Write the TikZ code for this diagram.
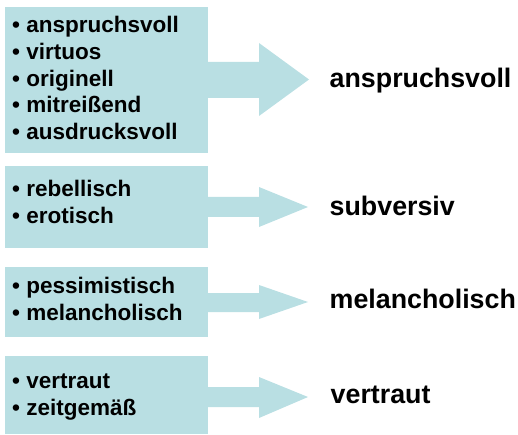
\documentclass[tikz,border=0pt]{standalone}
\usepackage{fontspec}
\setmainfont{Liberation Sans}
\definecolor{teal1}{RGB}{185,223,227}
\begin{document}
\begin{tikzpicture}[x=1pt,y=-1pt,
  boxbg/.style={fill=teal1,draw=none},
  item/.style={anchor=base west,inner sep=0pt,font=\fontsize{22.5}{27}\selectfont\bfseries},
  result/.style={anchor=base west,inner sep=0pt,font=\fontsize{26.8}{32}\selectfont\bfseries}]
\useasboundingbox (0,0) rectangle (518,435);
% arrows
\fill[teal1] (207,62) -- (259,62) -- (259,43) -- (309,79.5) -- (259,116) -- (259,98) -- (207,98) -- cycle;
\fill[teal1] (207,197) -- (259,197) -- (259,187) -- (308,207) -- (259,227) -- (259,217) -- (207,217) -- cycle;
\fill[teal1] (207,293) -- (259,293) -- (259,285) -- (308,302) -- (259,319) -- (259,312) -- (207,312) -- cycle;
\fill[teal1] (207,387) -- (259,387) -- (259,377) -- (308,397) -- (259,418) -- (259,407) -- (207,407) -- cycle;
% boxes
\fill[teal1] (5,7) rectangle (208,153);
\fill[teal1] (5,166) rectangle (208,248);
\fill[teal1] (5,267) rectangle (208,337);
\fill[teal1] (5,356) rectangle (208,434);
% box 1
\node[item] (a1) at (12,33) {• anspruchsvoll};
\node[item] (a2) at (12,60) {• virtuos};
\node[item] (a3) at (12,86.5) {• originell};
\node[item] (a4) at (12,113) {• mitreißend};
\node[item] (a5) at (12,140) {• ausdrucksvoll};
% box 2
\node[item] (b1) at (12,197) {• rebellisch};
\node[item] (b2) at (12,224) {• erotisch};
% box 3
\node[item] (c1) at (12,293) {• pessimistisch};
\node[item] (c2) at (12,320) {• melancholisch};
% box 4
\node[item] (d1) at (12,388) {• vertraut};
\node[item] (d2) at (12,415) {• zeitgemäß};
% results
\node[result] (r1) at (329.5,88) {anspruchsvoll};
\node[result] (r2) at (329.5,215) {subversiv};
\node[result] (r3) at (329.5,308) {melancholisch};
\node[result] (r4) at (330.5,403) {vertraut};
\end{tikzpicture}
\end{document}
